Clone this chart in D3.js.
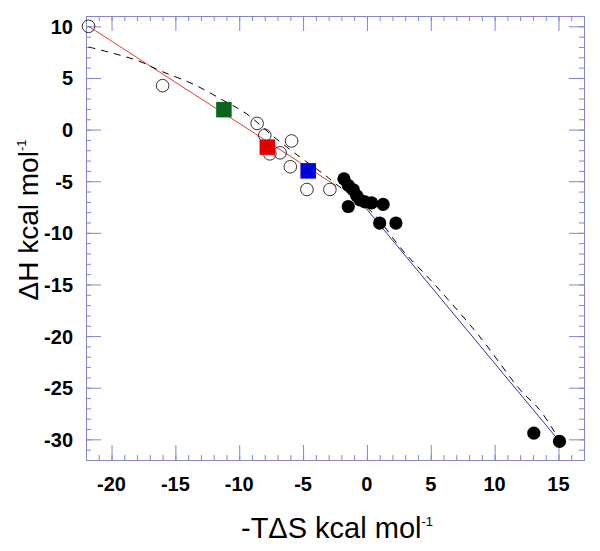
<!DOCTYPE html>
<html>
<head>
<meta charset="utf-8">
<script src="https://cdn.jsdelivr.net/npm/d3@7"></script>
<style>
  body { margin: 0; background: #fff; }
  svg { display: block; font-family: "Liberation Sans", Arial, sans-serif; }
</style>
</head>
<body>
<div id="chart"></div>
<script>
// -T dS (x) and dH (y), kcal/mol
const openX = [-21.8, -16.0, -8.6, -8.0, -5.9, -7.6, -6.8, -6.0, -4.7, -2.9];
const openY = [10.0, 4.25, 0.6, -0.55, -1.1, -2.35, -2.25, -3.6, -5.8, -5.8];

const filledX = [-1.8, -1.46, -1.07, -0.8, -0.55, -0.16, 0.37, 1.27, -1.46, 1.0, 2.27, 13.07, 15.08];
const filledY = [-4.77, -5.4, -5.83, -6.4, -6.8, -7.0, -7.1, -7.25, -7.45, -9.05, -9.05, -29.4, -30.2];

const squareX = [-11.2, -7.8, -4.6];
const squareY = [1.93, -1.7, -4.0];
const squareColors = ["#0b651c", "#e00000", "#0000dc"];

const redLineX = [-21.8, -2.4];
const redLineY = [10.0, -5.45];
const blueLineX = [-1.8, 15.08];
const blueLineY = [-5.05, -30.2];

const dashX = [-21.8, -18, -16.2, -13.6, -11.2, -9.4, -7.3, -5.2, -3.4, -2.4, 0.4, 2.8, 5.3, 8.8, 12.0, 13.5, 14.6, 15.1];
const dashY = [8.0, 6.7, 5.7, 4.4, 2.8, 1.5, -0.7, -2.7, -4.3, -5.3, -8.0, -11.7, -15, -20, -25.2, -27.1, -29.1, -30.2];

const xTicks = [-20, -15, -10, -5, 0, 5, 10, 15];
const yTicks = [10, 5, 0, -5, -10, -15, -20, -25, -30];

const W = 600, H = 551;
const frame = {left: 86, right: 584, top: 16, bottom: 460};
const axisColor = "#8585cc";

const svg = d3.select("#chart").append("svg")
    .attr("width", W)
    .attr("height", H);

const x = d3.scaleLinear().domain([-22, 17]).range([frame.left, frame.right]);
const y = d3.scaleLinear().domain([-32, 11]).range([frame.bottom, frame.top]);

// minor + major ticks, pointing inward on all four sides
function addAxis(axis, tx, ty, len, ticks) {
    svg.append("g")
        .attr("transform", "translate(" + tx + "," + ty + ")")
        .call(axis.tickValues(ticks).tickSize(len).tickFormat(""))
        .call(g => g.selectAll("line").attr("stroke", axisColor))
        .call(g => g.select(".domain").attr("stroke", axisColor));
}
const xMinor = d3.range(-22, 18, 1);
const yMinor = d3.range(-32, 12, 1);

addAxis(d3.axisTop(x), 0, frame.bottom, 5, xMinor);
addAxis(d3.axisTop(x), 0, frame.bottom, 15, xTicks);
addAxis(d3.axisBottom(x), 0, frame.top, 5, xMinor);
addAxis(d3.axisBottom(x), 0, frame.top, 15, xTicks);
addAxis(d3.axisRight(y), frame.left, 0, 5, yMinor);
addAxis(d3.axisRight(y), frame.left, 0, 15, yTicks);
addAxis(d3.axisLeft(y), frame.right, 0, 5, yMinor);
addAxis(d3.axisLeft(y), frame.right, 0, 15, yTicks);

// tick labels
svg.append("g").selectAll("text")
    .data(xTicks)
    .join("text")
    .attr("x", d => x(d))
    .attr("y", 491)
    .attr("text-anchor", "middle")
    .attr("font-size", 20)
    .attr("font-weight", "bold")
    .text(d => d);

svg.append("g").selectAll("text")
    .data(yTicks)
    .join("text")
    .attr("x", 73)
    .attr("y", d => y(d) + 7.5)
    .attr("text-anchor", "end")
    .attr("font-size", 20)
    .attr("font-weight", "bold")
    .text(d => d);

// axis titles
const xt = svg.append("text")
    .attr("x", 337)
    .attr("y", 538)
    .attr("text-anchor", "middle")
    .attr("font-size", 29);
xt.append("tspan").text("-T\u0394S kcal mol");
xt.append("tspan").attr("font-size", 13).attr("dy", -12).text("-1");

const yt = svg.append("text")
    .attr("transform", "translate(38,220) rotate(-90)")
    .attr("text-anchor", "middle")
    .attr("font-size", 28);
yt.append("tspan").text("\u0394H kcal mol");
yt.append("tspan").attr("font-size", 13).attr("dy", -12).text("-1");

const line = d3.line().x(d => x(d[0])).y(d => y(d[1]));

// fitted lines
svg.append("path")
    .datum(d3.zip(redLineX, redLineY))
    .attr("d", line)
    .attr("fill", "none")
    .attr("stroke", "#e04030")
    .attr("stroke-width", 1);

svg.append("path")
    .datum(d3.zip(blueLineX, blueLineY))
    .attr("d", line)
    .attr("fill", "none")
    .attr("stroke", "#3030b0")
    .attr("stroke-width", 1);

svg.append("path")
    .datum(d3.zip(dashX, dashY))
    .attr("d", line.curve(d3.curveCatmullRom))
    .attr("fill", "none")
    .attr("stroke", "#000")
    .attr("stroke-width", 1)
    .attr("stroke-dasharray", "7,6");

// points
svg.append("g").selectAll("circle")
    .data(d3.zip(openX, openY))
    .join("circle")
    .attr("cx", d => x(d[0]))
    .attr("cy", d => y(d[1]))
    .attr("r", 6.3)
    .attr("fill", "none")
    .attr("stroke", "#000")
    .attr("stroke-width", 0.8);

svg.append("g").selectAll("circle")
    .data(d3.zip(filledX, filledY))
    .join("circle")
    .attr("cx", d => x(d[0]))
    .attr("cy", d => y(d[1]))
    .attr("r", 6.6)
    .attr("fill", "#000");

const sq = 15.5;
svg.append("g").selectAll("rect")
    .data(d3.zip(squareX, squareY, squareColors))
    .join("rect")
    .attr("x", d => x(d[0]) - sq / 2)
    .attr("y", d => y(d[1]) - sq / 2)
    .attr("width", sq)
    .attr("height", sq)
    .attr("fill", d => d[2]);
</script>
</body>
</html>
